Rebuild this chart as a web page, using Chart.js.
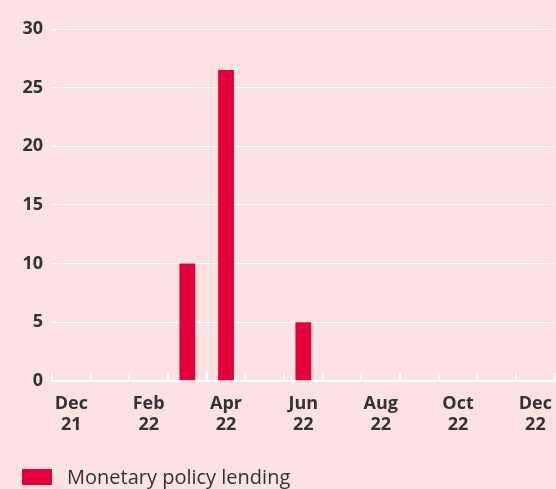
<!DOCTYPE html>
<html lang="en">
<head>
<meta charset="UTF-8">
<title>Monetary policy lending</title>
<script src="https://cdn.jsdelivr.net/npm/chart.js"></script>
<style>
  html, body { margin: 0; padding: 0; background: #fde2e2; }
  #wrap { position: relative; width: 556px; height: 489px; overflow: hidden; }
  #legend {
    position: absolute; left: 22px; top: 463px;
    font-family: "Open Sans", sans-serif; font-size: 20px; line-height: 28px; color: #333333;
    display: flex; align-items: center; white-space: nowrap;
  }
  #legend span.box { display: inline-block; width: 30px; height: 16px; background: #e4003b; margin-right: 15px; }
</style>
</head>
<body>
<div id="wrap">
  <canvas id="chart" width="556" height="489"></canvas>
  <div id="legend"><span class="box"></span><span id="legendText"></span></div>
</div>
<script>
// Data
const months = ['Dec 21', 'Jan 22', 'Feb 22', 'Mar 22', 'Apr 22', 'May 22', 'Jun 22',
                'Jul 22', 'Aug 22', 'Sep 22', 'Oct 22', 'Nov 22', 'Dec 22'];
const lending = [null, null, null, 10, 26.5, null, 5, null, null, null, null, null, null];
const yTicks = [0, 5, 10, 15, 20, 25, 30];
const seriesName = 'Monetary policy lending';

const barColor = '#e4003b';
const textColor = '#333333';

document.getElementById('legendText').textContent = seriesName;

// white tick marks standing up from the x axis, at month boundaries
const axisTicks = {
  id: 'axisTicks',
  beforeDatasetsDraw(chart) {
    const x = chart.scales.x;
    const bottom = chart.chartArea.bottom;
    const half = (x.getPixelForValue(1) - x.getPixelForValue(0)) / 2;
    const ctx = chart.ctx;
    ctx.save();
    ctx.strokeStyle = '#ffffff';
    ctx.lineWidth = 2;
    for (let i = 0; i <= months.length; i++) {
      const px = Math.round(x.getPixelForValue(i) - half);
      ctx.beginPath();
      ctx.moveTo(px, bottom - 8);
      ctx.lineTo(px, bottom);
      ctx.stroke();
    }
    ctx.restore();
  }
};

new Chart(document.getElementById('chart'), {
  type: 'bar',
  data: {
    labels: months,
    datasets: [{
      label: seriesName,
      data: lending,
      backgroundColor: barColor,
      borderWidth: 0,
      categoryPercentage: 1,
      barPercentage: 0.41
    }]
  },
  plugins: [axisTicks],
  options: {
    responsive: false,
    animation: false,
    layout: { padding: { left: 12, right: 0, top: 29, bottom: 49 } },
    plugins: {
      tooltip: { enabled: false },
      legend: { display: false }
    },
    scales: {
      x: {
        offset: true,
        grid: { display: false },
        border: { color: '#ffffff', width: 2 },
        ticks: {
          autoSkip: false,
          maxRotation: 0,
          padding: 4,
          color: textColor,
          font: { family: '"Open Sans", sans-serif', size: 18, weight: 'bold', lineHeight: 1.2 },
          callback: (v, i) => (i % 2 === 0 ? months[i].split(' ') : '')
        }
      },
      y: {
        min: 0,
        max: 30,
        afterBuildTicks: (s) => { s.ticks = yTicks.map((v) => ({ value: v })); },
        afterFit: (s) => { s.width = 40; },
        grid: { color: '#ffffff', lineWidth: 1, drawTicks: false },
        border: { display: false },
        ticks: {
          padding: 9,
          color: textColor,
          font: { family: '"Open Sans", sans-serif', size: 18, weight: 'bold' }
        }
      }
    }
  }
});
</script>
</body>
</html>
